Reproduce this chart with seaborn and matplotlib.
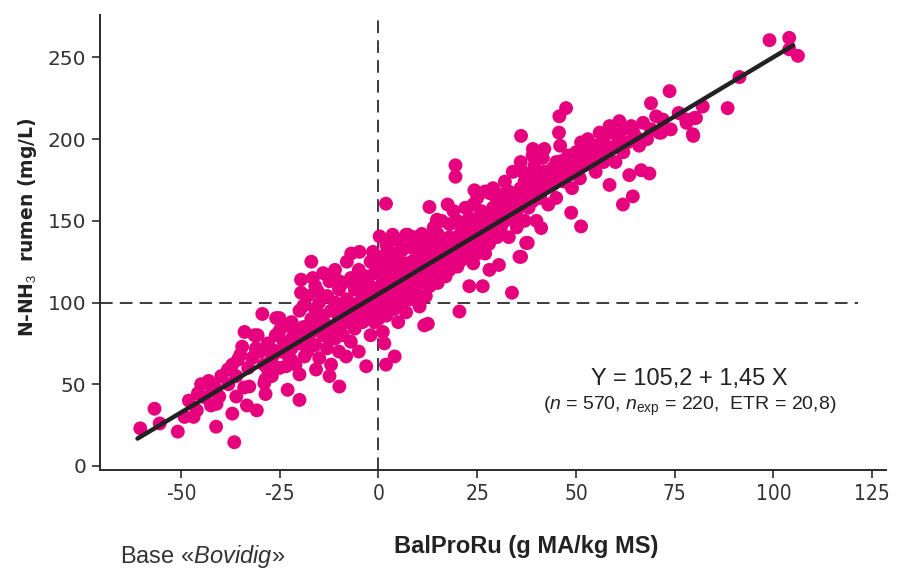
import matplotlib
matplotlib.use("Agg")
import matplotlib.pyplot as plt
from matplotlib import font_manager
from matplotlib.font_manager import FontProperties
import seaborn as sns
import pandas as pd

# ---- data ----
bal_x = [
    # sparse left tail
    -60.3, -56.7, -55.4, -50.8, -49.1, -46.8, -48, -46, -44.9, -45.7, -44, -43, -42.4, -42, -41.5, -41.1, -41, -40.3,
    -39.8, -38.1, -38, -37, -37, -36.5, -36, -36, -35.6, -35, -34.5, -34, -33.9, -33.3, -33, -32.7, -32, -31.4, -31, -31,
    -30.8, -30.6, -30, -29.4, -29, -28.9, -28.6, -28.6, -28, -28, -27, -27, -26.8, -26, -25.9, -25.1, -25, -25, -25,
    -24, -23.4, -23.4, -23, -23, -22.1, -22, -22, -21.7, -21, -21, -20, -20, -20, -20,
    # -20 .. -10
    -19.6, -19.6, -19, -19, -18.7, -18, -18, -18, -17, -17, -17, -16.6, -16, -16, -16, -15.8, -15.4, -15, -15, -15,
    -14, -14, -14, -13, -13, -13, -12.8, -12.4, -12.4, -12, -12, -12, -11, -11, -11, -10, -10, -10, -10, -9.9, -9.9,
    # -10 .. 0
    -9, -9, -9, -8.2, -8, -8, -8, -7, -7, -7, -6.9, -6, -6, -6, -5, -5, -5, -5, -4.8, -4, -4, -4, -3.1, -3, -3, -3,
    -2, -2, -2, -2, -1.4, -1, -1, -1, -1, 0, 0, 0, 0, 0.3,
    # 0 .. 10
    1, 1, 1, 1, 1.1, 1.5, 1.9, 1.9, 1.9, 2, 2, 2, 2, 3, 3, 3, 3, 3.6, 3.6, 4, 4, 4, 4, 4.1, 5, 5, 5, 5, 5, 6, 6, 6, 6,
    7, 7, 7, 7, 7, 7.4, 8, 8, 8, 8, 9, 9, 9, 9, 10, 10, 10, 10, 10.4, 10.4,
    # 10 .. 20
    11, 11, 11, 11, 11.2, 11.6, 12, 12, 12, 12, 12.5, 12.9, 13, 13, 13, 13, 14, 14, 14, 14.8, 15, 15, 15, 15, 16, 16,
    16, 16, 17, 17, 17, 17.5, 18, 18, 18, 18, 19, 19, 19, 19.5, 19.5, 20, 20, 20, 20, 20.5,
    # 20 .. 30
    21, 21, 21, 22, 22, 22, 22, 23, 23, 23, 23, 24, 24, 24, 24, 24.3, 25, 25, 25, 25, 26, 26, 26, 26.4, 27, 27, 27, 27,
    28, 28, 28, 28.1, 28.1, 29, 29, 29, 30, 30, 30, 30.5,
    # 30 .. 40
    31, 31, 31, 32, 32, 32, 33, 33, 33, 33.8, 34, 34, 34, 35, 35, 35, 35.7, 36, 36, 36, 36.1, 36.1, 36.5, 37, 37, 37,
    37.4, 37.8, 38, 38, 38, 39, 39, 39, 39.1, 39.5, 40, 40, 40,
    # 40 .. 50
    41, 41, 41.2, 41.6, 42, 42, 42, 43, 43, 44, 44, 45, 45, 45, 45.7, 45.8, 46, 46, 46.2, 47, 47, 47.5, 48, 48, 48.8,
    49, 49, 49.2, 50, 50,
    # 50 .. 60
    51, 51, 51.3, 51.3, 52, 52, 53, 53, 54, 55, 55, 55.1, 56, 56, 57, 57, 58, 58.5, 58.5, 59, 60, 60,
    # 60 .. 80
    61, 61, 61.9, 62, 62, 63, 63.5, 64, 64.4, 64.4, 65, 66, 66.5, 67, 68, 68.6, 69, 69, 70.3, 71.1, 71.6, 72, 73.7,
    74, 76, 77.9, 78, 79.6, 79.7, 80, 80.4,
    # right tail
    82.1, 88.4, 91.4, 99, 104, 104, 106.2,
]

nh3_y = [
    # sparse left tail
    23, 35, 26, 21, 30, 30, 40, 34, 50, 44.5, 42, 52, 37, 46, 48.6, 24, 38, 42.5,
    55, 59, 50, 62, 32, 14.5, 42.5, 55, 65, 68, 73, 48, 82, 37, 60, 48.6, 66, 80, 72, 71,
    34, 80, 70, 93, 62, 50.7, 44, 53, 59, 75, 66, 55, 71, 80, 90.5, 90.5, 83, 70, 60,
    76, 86, 61, 46.6, 68, 65, 88, 72, 79, 62, 82, 75, 95, 56, 40.4,
    # -20 .. -10
    114, 106, 85, 98, 67, 78, 104, 70, 125, 90, 82, 115, 96, 74, 110, 59, 107, 88, 100, 66,
    80, 92, 118, 86, 72, 104, 79, 113, 55, 95, 84, 62, 100, 78, 120, 90, 108, 70, 82, 113, 48.6,
    # -10 .. 0
    95, 112, 80, 67, 102, 88, 125, 98, 115, 76, 130, 108, 92, 84, 100, 120, 112, 70, 131, 96, 106, 88, 61, 116, 102, 92,
    110, 98, 125, 80, 131, 104, 118, 94, 88, 108, 100, 122, 90, 140.5,
    # 0 .. 10
    112, 98, 128, 105, 82, 75, 62, 160.5, 120, 118, 106, 92, 135, 110, 124, 100, 116, 141.5, 138.5, 108, 130, 96, 120,
    67, 114, 104, 126, 138, 88, 118, 110, 100, 132, 116, 124, 106, 94, 141.5, 141.5, 120, 112, 134, 102, 118, 126, 108,
    140, 114, 122, 104, 132, 99, 97.6,
    # 10 .. 20
    120, 130, 112, 142, 135, 86, 126, 116, 136, 104, 87, 158.5, 130, 122, 140, 110, 128, 118, 146, 150.7, 134, 124, 112,
    142, 130, 120, 150, 138, 136, 126, 116, 160, 140, 130, 148, 120, 136, 126, 156, 184, 177, 140, 132, 122, 150, 94.5,
    # 20 .. 30
    144, 134, 126, 148, 138, 158, 128, 142, 152, 132, 110, 146, 136, 160, 124, 168.7, 150, 140, 130, 164, 146, 156, 136,
    110, 150, 142, 168, 130, 154, 146, 136, 167, 120, 158, 148, 170, 152, 162, 140, 123,
    # 30 .. 40
    156, 166, 146, 160, 150, 174, 158, 168, 140, 106, 162, 152, 180, 166, 156, 146, 128, 170, 160, 186, 202, 128, 180,
    164, 174, 150, 136.5, 136.5, 168, 178, 158, 172, 162, 190, 194, 184, 176, 166, 150,
    # 40 .. 50
    174, 164, 145.6, 188.5, 180, 170, 194, 176, 160, 182, 172, 186, 176, 164, 204, 214, 180, 196, 186.5, 184, 174, 219,
    190, 178, 155, 186, 170, 189.5, 192, 182,
    # 50 .. 60
    188, 176, 198, 146.6, 194, 184, 190, 200, 186, 196, 180, 190.6, 192, 204, 198, 186, 194, 208, 172, 204, 196, 186,
    # 60 .. 80
    200, 211, 160, 206, 192, 198, 178, 208, 205, 165, 202, 196, 181, 210, 200, 179, 206, 222, 214, 204, 204, 212, 229.4,
    206, 216, 212, 210, 203, 202, 213, 213,
    # right tail
    220, 219, 238, 260.6, 262, 255, 251,
]

intercept = 105.2
slope = 1.45
fit_x = [-61, 105]

x_ticks = [-50, -25, 0, 25, 50, 75, 100, 125]
y_ticks = [0, 50, 100, 150, 200, 250]

# ---- fonts ----
sns.set_theme(style="white")
plt.rcParams["font.family"] = ["DejaVu Sans"]
plt.rcParams["mathtext.fontset"] = "custom"
plt.rcParams["mathtext.rm"] = "Liberation Sans"
plt.rcParams["mathtext.it"] = "Liberation Sans:italic"

# look for a condensed face for the x tick labels
cond_file = None
for f in font_manager.fontManager.ttflist:
    nm = (f.name + " " + f.fname).lower()
    if ("narrow" in nm or "condensed" in nm) and f.style == "normal" and f.weight in (400, "normal", "regular"):
        if "bold" in f.fname.lower() or "oblique" in f.fname.lower():
            continue
        cond_file = f.fname
        break
if cond_file:
    xtick_fp = FontProperties(fname=cond_file, size=15)
else:
    xtick_fp = FontProperties(family="Liberation Sans", size=14.5)

df = pd.DataFrame({"x": bal_x, "y": nh3_y})
fit_df = pd.DataFrame({"x": fit_x, "y": [intercept + slope * v for v in fit_x]})

fig = plt.figure(figsize=(9.08, 5.71), dpi=100)
ax = fig.add_axes([100 / 908, 1 - 470 / 571, 786 / 908, 455 / 571])

dark = "#2b2b2b"
ax.axvline(0, color=dark, lw=1.3, ls=(0, (7, 4)), zorder=1)
ax.plot([-70.5, 121.5], [100, 100], color=dark, lw=1.3, ls=(0, (7, 4)), zorder=1)

sns.scatterplot(data=df, x="x", y="y", ax=ax, color="#E6007E", s=100,
                edgecolor="none", linewidth=0, alpha=1, zorder=2)
sns.lineplot(data=fit_df, x="x", y="y", ax=ax, color="#222222", lw=3.2, zorder=3)

ax.set_xlim(-70.5, 128.5)
ax.set_ylim(-2.5, 276)
ax.set_xticks(x_ticks)
ax.set_yticks(y_ticks)
ax.set_xticklabels([str(v) for v in x_ticks], fontproperties=xtick_fp, color="#333333")
ax.set_yticklabels([str(v) for v in y_ticks], fontsize=14.5, color="#333333")
for s in ["top", "right"]:
    ax.spines[s].set_visible(False)
for s in ["left", "bottom"]:
    ax.spines[s].set_color(dark)
    ax.spines[s].set_linewidth(1.4)
ax.tick_params(axis="both", direction="out", length=6, width=1.2, color=dark,
               left=True, bottom=True, pad=4)
ax.set_xlabel("")
ax.set_ylabel("")

fig.text(28 / 908, 1 - 227 / 571, r"N-NH$_3$  rumen (mg/L)", rotation=90,
         ha="center", va="center", fontsize=13.5, fontweight="bold", color="#222222")
fig.text(526 / 908, 1 - 547 / 571, "BalProRu (g MA/kg MS)", ha="center", va="center",
         fontsize=17, fontweight="bold", fontfamily="Liberation Sans", color="#222222")
fig.text(120 / 908, 1 - 556 / 571, r"Base «$\it{Bovidig}$»", ha="left", va="center",
         fontsize=17, fontfamily="Liberation Sans", color="#333333")

fig.text(689 / 908, 1 - 379 / 571, "Y = 105,2 + 1,45 X", ha="center", va="center",
         fontsize=17, fontfamily="Liberation Sans", color="#222222")
fig.text(690 / 908, 1 - 406 / 571,
         r"($\it{n}$ = 570, $\it{n}_{\mathrm{exp}}$ = 220,  ETR = 20,8)",
         ha="center", va="center", fontsize=14, fontfamily="Liberation Sans", color="#222222")

fig.savefig("out.png", dpi=100)
